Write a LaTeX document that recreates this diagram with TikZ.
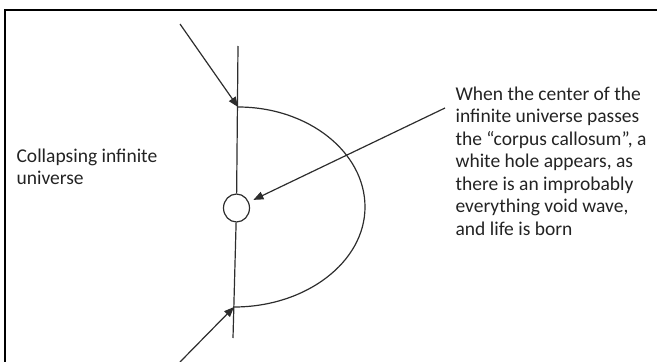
\documentclass[tikz,border=0pt]{standalone}
\usepackage{fontspec}
\setmainfont{Carlito}
\definecolor{inkgray}{RGB}{45,45,45}
\definecolor{textgray}{RGB}{35,35,35}
\usetikzlibrary{positioning, arrows.meta, shapes.geometric}

\begin{document}
\begin{tikzpicture}[x=1pt, y=-1pt, line width=1.2pt,
    every node/.style={font=\fontsize{19.5}{22.5}\selectfont, text=textgray},
    pointer/.style={draw=inkgray, -{Triangle[length=10pt,width=8pt]}}]
  \useasboundingbox (0,0) rectangle (657,362);
  \draw[line width=2pt] (5,362) -- (5,10) -- (657,10);
  % axis with the white hole on it
  \coordinate (axtop) at (238,46);
  \coordinate (axbot) at (233,338);
  \node[ellipse, draw=inkgray, minimum width=26pt, minimum height=28pt, inner sep=0pt] (hole) at (236.5,208) {};
  \draw[inkgray] (axtop) -- (hole);
  \draw[inkgray] (hole) -- (axbot);
  % half wave
  \coordinate (wtop) at (238,107);
  \coordinate (wbot) at (234,307);
  \draw[inkgray] (wtop) .. controls (308,107) and (365,152) .. (365,207)
                        .. controls (365,262) and (306,307) .. (wbot);
  \coordinate (intop) at (180,24);
  \coordinate (inbot) at (180,362);
  \draw[pointer] (intop) -- (wtop);
  \draw[pointer] (inbot) -- (wbot);
  \node[anchor=base west, align=left, inner sep=0pt] (collapse) at (16,184.5)
    {Collapsing infinite\\universe};
  \node[anchor=base west, align=left, inner sep=0pt] (story) at (455,235)
    {When the center of the\\infinite universe passes\\the “corpus callosum”, a\\white hole appears, as\\there is an improbably\\everything void wave,\\and life is born};
  \coordinate (from) at (445,108);
  \draw[pointer, shorten >=5pt] (from) -- (hole);
\end{tikzpicture}
\end{document}
